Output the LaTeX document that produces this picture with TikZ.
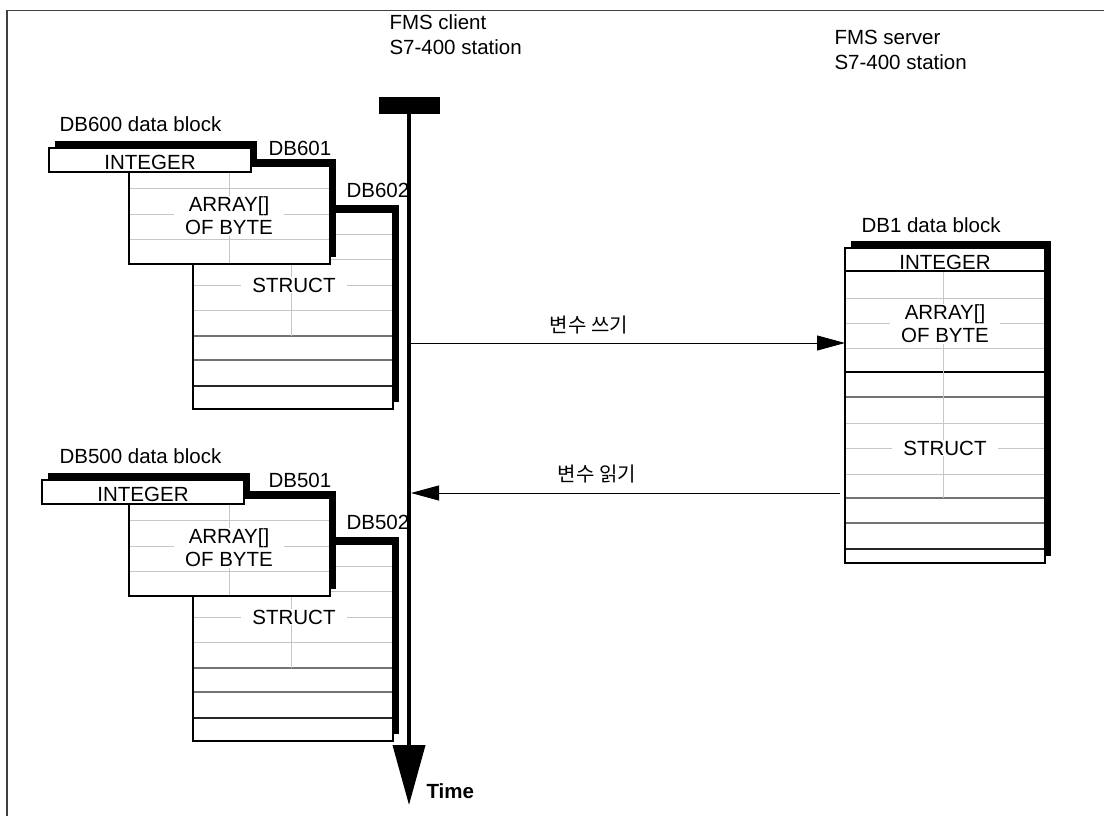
\documentclass[tikz,border=0pt]{standalone}
\usepackage{fontspec}
\setmainfont{Liberation Sans}
\newfontfamily\kofont{Noto Sans CJK KR}
\usetikzlibrary{arrows.meta,shadows}
\begin{document}
\begin{tikzpicture}[x=1pt,y=-1pt,
    every node/.style={font=\fontsize{20.5}{25}\selectfont},
    dbbox/.style={draw,line width=1.5pt,fill=white,inner sep=0pt,outer sep=0pt,
      drop shadow={shadow xshift=6pt,shadow yshift=7pt,opacity=1,fill=black}},
    gridline/.style={line width=1pt,black!22},
    midline/.style={line width=1.6pt,black!55},
    darkline/.style={line width=1.4pt,black!85},
    cellname/.style={fill=white,inner xsep=11pt,inner ysep=1pt,align=center,
      font=\fontsize{20.5}{23}\selectfont},
    msg/.style={line width=0.9pt,-{Triangle[length=28pt,width=15pt]}},
    kolabel/.style={font=\kofont\fontsize{20}{24}\selectfont}]
  \useasboundingbox (0,0) rectangle (1104,816);
  \draw[line width=1.5pt,black!75] (7,816) -- (7,10.5) -- (1104,10.5);
  % client side, two data blocks
  \foreach \g/\a/\b/\dy/\dx in {600/601/602/0/0,500/501/502/332/-7}{
    \begin{scope}[shift={(0,\dy)}]
      \node[anchor=west] (lbl\g) at (56,124) {DB\g\ data block};
      \node[dbbox,minimum width=200,minimum height=197] (db\b) at (293,310.5) {};
      \foreach \y in {234,259,285,310} \draw[gridline] (194,\y) -- (392,\y);
      \foreach \y in {336,360} \draw[midline] (194,\y) -- (392,\y);
      \draw[darkline] (194,386) -- (392,386);
      \draw[gridline] (291,213) -- (291,336);
      \node[cellname] (st\b) at (294,285) {STRUCT};
      \node[anchor=west] (lbl\b) at (343,190) {DB\b};
      \node[dbbox,minimum width=201,minimum height=98] (db\a) at (229.5,215) {};
      \foreach \y in {188,214,239} \draw[gridline] (130,\y) -- (329,\y);
      \draw[gridline] (229,167) -- (229,263);
      \node[cellname] (arr\a) at (229,216) {ARRAY[]\\OF BYTE};
      \node[anchor=west] (lbl\a) at (265,148) {DB\a};
      \node[dbbox,text height=19pt,minimum width=202,minimum height=24] (int\g) at ({150+\dx},160) {INTEGER};
    \end{scope}
  }
  % server side
  \node[anchor=west] (lbl1) at (858,225) {DB1 data block};
  \node[dbbox,minimum width=200,minimum height=315] (db1) at (945,405.5) {};
  \foreach \y in {298,323,348,423,448,474} \draw[gridline] (846,\y) -- (1044,\y);
  \foreach \y in {397,498,523} \draw[midline] (846,\y) -- (1044,\y);
  \draw[darkline] (846,549) -- (1044,549);
  \draw[line width=1.4pt] (846,271) -- (1044,271) (846,372) -- (1044,372);
  \draw[gridline] (943,272) -- (943,498);
  \node (int1) at (945,262) {INTEGER};
  \node[cellname] (arr1) at (945,324) {ARRAY[]\\OF BYTE};
  \node[cellname] (st1) at (945,448) {STRUCT};
  % stations and time axis
  \node[anchor=west,align=left] (client) at (386,35) {FMS client\\S7-400 station};
  \node[anchor=west,align=left] (server) at (831,50) {FMS server\\S7-400 station};
  \node[fill=black,inner sep=0pt,minimum width=61,minimum height=17] (bar) at (409,105.5) {};
  \coordinate (tend) at (409,805);
  \draw[line width=4pt,-{Triangle[length=60pt,width=32pt]}] (bar.south) -- (tend);
  \node[anchor=west,font=\bfseries\fontsize{20.5}{25}\selectfont] (time) at (423,791) {Time};
  % variable services
  \coordinate (tw) at (411,343);
  \coordinate (tr) at (411,493);
  \draw[msg] (tw) -- (tw -| db1.west);
  \draw[msg,shorten <=5pt] (tr -| db1.west) -- (tr);
  \node[kolabel] (wlbl) at (589,325) {변수 쓰기};
  \node[kolabel] (rlbl) at (597,474) {변수 읽기};
\end{tikzpicture}
\end{document}
